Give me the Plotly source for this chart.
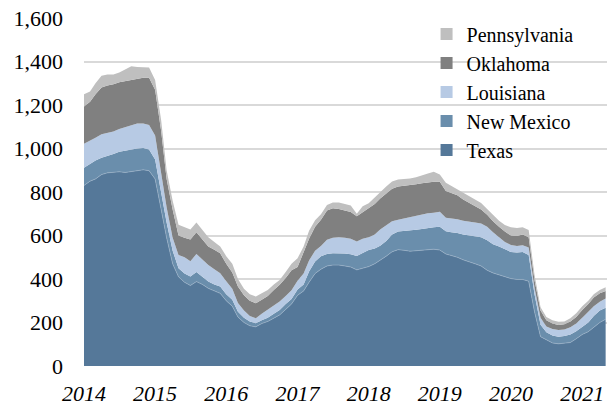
import pandas as pd
import plotly.graph_objects as go

# Monthly rig counts, Jan 2014 - May 2021
texas = [830, 850, 860, 880, 888, 890, 893, 890, 895, 900, 902, 898,
         860, 720, 590, 470, 410, 385, 370, 388, 375, 357, 345, 334,
         300, 275, 225, 200, 185, 180, 195, 205, 220, 235, 260, 285,
         325, 345, 385, 425, 445, 460, 464, 464, 460, 455, 442, 450,
         457, 470, 485, 505, 525, 535, 532, 528, 530, 533, 535, 537,
         533, 515, 508, 500, 488, 480, 470, 460, 440, 428, 418, 410,
         402, 398, 398, 390, 250, 135, 120, 106, 102, 104, 108, 125,
         145, 158, 180, 200, 215]
nm_top = [912, 930, 945, 958, 965, 975, 985, 990, 998, 1000, 1002, 995,
          950, 800, 660, 530, 450, 425, 412, 432, 410, 388, 375, 365,
          330, 305, 250, 222, 205, 196, 210, 222, 240, 258, 285, 308,
          352, 375, 435, 480, 505, 515, 518, 518, 517, 514, 506, 520,
          533, 540, 553, 575, 605, 618, 620, 622, 626, 630, 635, 638,
          640, 620, 615, 612, 605, 600, 598, 592, 578, 560, 549, 535,
          524, 522, 524, 510, 330, 190, 155, 140, 135, 138, 145, 160,
          180, 200, 230, 255, 268]
la_top = [1022, 1035, 1050, 1065, 1072, 1078, 1090, 1098, 1108, 1115, 1115, 1108,
          1060, 890, 730, 590, 510, 500, 482, 515, 490, 464, 445, 426,
          390, 355, 290, 255, 230, 219, 240, 260, 278, 296, 322, 348,
          392, 425, 485, 530, 552, 580, 590, 592, 590, 585, 572, 585,
          592, 605, 628, 645, 665, 672, 678, 684, 690, 698, 702, 705,
          709, 682, 680, 675, 668, 665, 660, 655, 640, 615, 590, 570,
          556, 552, 555, 545, 360, 222, 182, 170, 165, 168, 178, 195,
          222, 250, 275, 295, 310]
ok_top = [1193, 1215, 1250, 1280, 1290, 1295, 1305, 1310, 1318, 1323, 1325, 1325,
          1270, 1080, 860, 720, 600, 590, 582, 615, 580, 549, 535, 518,
          470, 430, 365, 325, 300, 288, 305, 322, 350, 373, 405, 440,
          455, 520, 585, 640, 672, 715, 725, 722, 715, 708, 688, 708,
          725, 745, 770, 795, 815, 825, 828, 830, 836, 840, 845, 847,
          847, 805, 795, 785, 765, 750, 735, 720, 695, 665, 640, 618,
          600, 598, 605, 592, 395, 255, 210, 195, 188, 192, 205, 225,
          258, 285, 315, 335, 345]
pa_top = [1250, 1262, 1300, 1335, 1340, 1340, 1350, 1365, 1378, 1375, 1372, 1372,
          1315, 1130, 900, 760, 650, 638, 628, 660, 625, 592, 570, 549,
          505, 470, 400, 355, 330, 319, 335, 350, 375, 395, 432, 470,
          495, 550, 622, 670, 698, 740, 752, 752, 745, 738, 700, 735,
          748, 775, 800, 825, 848, 858, 860, 862, 868, 878, 885, 893,
          880, 842, 828, 812, 795, 780, 765, 750, 722, 695, 668, 648,
          638, 635, 638, 625, 420, 270, 225, 210, 203, 205, 220, 242,
          275, 300, 330, 350, 362]

new_mexico = [b - a for a, b in zip(texas, nm_top)]
louisiana = [b - a for a, b in zip(nm_top, la_top)]
oklahoma = [b - a for a, b in zip(la_top, ok_top)]
pennsylvania = [b - a for a, b in zip(ok_top, pa_top)]

dates = pd.date_range(start="2014-01-01", periods=len(texas), freq="MS")
years = [str(y) for y in range(2014, 2022)]
year_ticks = [f"{y}-01-01" for y in years]

series = [
    ("Texas", texas, "#557899"),
    ("New Mexico", new_mexico, "#6a8eac"),
    ("Louisiana", louisiana, "#b7cae4"),
    ("Oklahoma", oklahoma, "#808080"),
    ("Pennsylvania", pennsylvania, "#bfbfbf"),
]

fig = go.Figure()
for name, vals, col in series:
    fig.add_trace(go.Scatter(
        x=dates, y=vals, name=name, mode="lines", stackgroup="one",
        line=dict(width=0.6 if name == "Texas" else 0,
                  color="#9db3ca" if name == "Texas" else col),
        fillcolor=col, showlegend=False, hoverinfo="skip"))
for name, vals, col in series:
    fig.add_trace(go.Scatter(
        x=[None], y=[None], name=name, mode="markers",
        marker=dict(symbol="square", size=15, color=col), showlegend=True))

fig.update_layout(
    width=611, height=406,
    margin=dict(l=84, r=4, t=18, b=40),
    paper_bgcolor="white", plot_bgcolor="white",
    font=dict(family="Liberation Serif", color="#000000", size=22),
    legend=dict(x=0.655, y=1.01, xanchor="left", yanchor="top",
                traceorder="reversed", bgcolor="rgba(0,0,0,0)",
                font=dict(size=20), itemsizing="constant",
                tracegroupgap=0),
    showlegend=True,
)
fig.update_xaxes(
    range=["2014-01-01", "2021-05-08"],
    tickvals=year_ticks, ticktext=years,
    tickfont=dict(size=22, style="italic"),
    showgrid=False, zeroline=False, showline=False, ticks="",
    ticklabelstandoff=12, automargin=False,
)
fig.update_yaxes(
    range=[0, 1600], dtick=200, tickformat=",",
    showgrid=True, gridcolor="#d9d9d9", gridwidth=1.5,
    zeroline=False, showline=False, ticks="",
    tickfont=dict(size=22), ticklabelstandoff=20, automargin=False,
)
fig.write_html("out.html",
               config={"displayModeBar": False},
               post_script="document.body.style.margin='0';")
